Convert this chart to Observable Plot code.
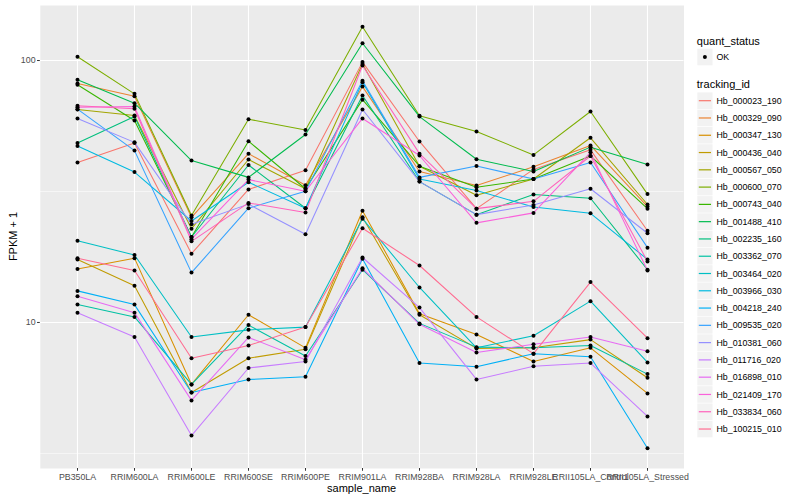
<!DOCTYPE html>
<html>
<head>
<meta charset="utf-8">
<script src="https://cdn.jsdelivr.net/npm/d3@7"></script>
<script src="https://cdn.jsdelivr.net/npm/@observablehq/plot@0.6"></script>
<style>
  html, body { margin: 0; padding: 0; background: white; }
  #chart { position: relative; width: 800px; height: 500px; }
</style>
</head>
<body>
<div id="chart"></div>
<script>
const samples = ["PB350LA", "RRIM600LA", "RRIM600LE", "RRIM600SE", "RRIM600PE", "RRIM901LA",
  "RRIM928BA", "RRIM928LA", "RRIM928LE", "RRII105LA_Control", "RRII105LA_Stressed"];

const trackingIds = ["Hb_000023_190", "Hb_000329_090", "Hb_000347_130", "Hb_000436_040", "Hb_000567_050",
  "Hb_000600_070", "Hb_000743_040", "Hb_001488_410", "Hb_002235_160", "Hb_003362_070",
  "Hb_003464_020", "Hb_003966_030", "Hb_004218_240", "Hb_009535_020", "Hb_010381_060",
  "Hb_011716_020", "Hb_016898_010", "Hb_021409_170", "Hb_033834_060", "Hb_100215_010"];

const idColors = ["#F8766D", "#EA8331", "#D89000", "#C09B00", "#A3A500", "#7CAE00", "#39B600", "#00BB4E",
  "#00BF7D", "#00C1A3", "#00BFC4", "#00BAE0", "#00B0F6", "#35A2FF", "#9590FF", "#C77CFF",
  "#E76BF3", "#FA62DB", "#FF62BC", "#FF6C91"];

// FPKM + 1, one value per sample (same order as samples)
const hb_000023_190 = [40.8, 48.4, 18.3, 32.2, 38.1, 98.6, 49.1, 27.2, 38.4, 45.6, 22.4];
const hb_000329_090 = [81.7, 73.1, 25.2, 44.1, 33.4, 79.5, 37.7, 33.3, 39.3, 47.4, 27.7];
const hb_000347_130 = [16.0, 17.6, 5.8, 10.7, 8.0, 26.7, 10.8, 9.0, 7.1, 8.0, 5.36];
const hb_000436_040 = [17.4, 13.8, 5.4, 7.3, 7.9, 25.2, 10.7, 7.96, 8.0, 8.6, 6.15];
const hb_000567_050 = [65.0, 61.7, 22.8, 41.9, 32.4, 97.0, 39.5, 30.6, 35.3, 50.7, 28.2];
const hb_000600_070 = [103.4, 74.6, 25.6, 59.7, 54.3, 134.5, 61.5, 53.6, 43.6, 63.9, 30.9];
const hb_000743_040 = [80.8, 59.0, 21.2, 49.2, 32.4, 70.9, 39.5, 32.8, 35.3, 43.2, 27.2];
const hb_001488_410 = [84.4, 68.7, 41.5, 35.8, 52.2, 116.4, 61.1, 42.0, 37.7, 46.7, 40.1];
const hb_002235_160 = [48.4, 61.1, 21.2, 39.9, 27.3, 73.5, 34.5, 25.8, 30.8, 29.8, 15.9];
const hb_003362_070 = [11.7, 10.5, 5.8, 9.77, 7.45, 15.9, 9.92, 8.05, 8.0, 8.17, 6.35];
const hb_003464_020 = [20.5, 18.1, 8.8, 9.37, 9.6, 24.9, 13.6, 8.0, 8.9, 12.06, 7.04];
const hb_003966_030 = [47.2, 37.5, 24.4, 34.3, 27.3, 82.7, 35.3, 31.9, 27.6, 26.1, 17.4];
const hb_004218_240 = [13.2, 11.7, 5.4, 6.06, 6.2, 17.5, 7.0, 6.77, 7.6, 7.4, 3.31];
const hb_009535_020 = [65.2, 45.3, 15.5, 27.3, 31.7, 83.7, 35.8, 39.6, 35.3, 40.8, 19.3];
const hb_010381_060 = [60.1, 48.7, 23.7, 28.3, 21.7, 65.0, 34.5, 25.8, 28.1, 32.4, 21.9];
const hb_011716_020 = [10.9, 8.8, 3.7, 6.7, 7.1, 17.7, 11.4, 6.06, 6.8, 7.0, 4.38];
const hb_016898_010 = [12.6, 10.9, 5.04, 8.77, 7.2, 16.1, 9.84, 7.68, 8.26, 8.8, 7.77];
const hb_021409_170 = [66.3, 66.7, 20.8, 35.1, 31.7, 60.1, 43.4, 24.0, 26.2, 44.6, 15.8];
const hb_033834_060 = [67.2, 65.4, 20.4, 28.6, 26.3, 95.7, 44.1, 27.2, 29.0, 43.2, 17.1];
const hb_100215_010 = [17.6, 15.8, 7.3, 8.17, 9.6, 22.9, 16.5, 10.5, 7.6, 14.26, 8.71];

const seriesValues = [hb_000023_190, hb_000329_090, hb_000347_130, hb_000436_040, hb_000567_050,
  hb_000600_070, hb_000743_040, hb_001488_410, hb_002235_160, hb_003362_070,
  hb_003464_020, hb_003966_030, hb_004218_240, hb_009535_020, hb_010381_060,
  hb_011716_020, hb_016898_010, hb_021409_170, hb_033834_060, hb_100215_010];

const yTicks = [10, 100];
const yMinorGrid = [Math.sqrt(10), Math.sqrt(1000)];

const data = [];
trackingIds.forEach((id, i) => {
  seriesValues[i].forEach((v, j) => data.push({id, sample: samples[j], value: v, status: "OK"}));
});

const W = 800, H = 500;
const mL = 39.8, mR = 116.5, mT = 5, mB = 32;
const font = "'Liberation Sans', Arial, Helvetica, sans-serif";

const svg = Plot.plot({
  width: W, height: H,
  marginLeft: mL, marginRight: mR, marginTop: mT, marginBottom: mB,
  style: {fontFamily: font, fontSize: "8.8px", background: "white", color: "#4D4D4D"},
  x: {type: "point", domain: samples, padding: 0.6, label: null},
  y: {type: "log", domain: [2.77, 162.2], label: null},
  color: {domain: trackingIds, range: idColors},
  marks: [
    Plot.frame({fill: "#EBEBEB", stroke: "none"}),
    Plot.ruleY(yMinorGrid, {stroke: "white", strokeWidth: 0.55}),
    Plot.ruleY(yTicks, {stroke: "white", strokeWidth: 1.1}),
    Plot.ruleX(samples, {stroke: "white", strokeWidth: 1.1}),
    Plot.line(data, {x: "sample", y: "value", z: "id", stroke: "id", strokeWidth: 1.05}),
    Plot.dot(data, {x: "sample", y: "value", r: 2, fill: "black", stroke: "none"}),
    Plot.axisX({tickSize: 2.75, tickPadding: 2, stroke: "#333333", fill: "#4D4D4D", label: null}),
    Plot.axisY({ticks: yTicks, tickFormat: d => String(d), tickSize: 2.75, tickPadding: 2,
      stroke: "#333333", fill: "#4D4D4D", label: null})
  ]
});

document.getElementById("chart").appendChild(svg);

const s = d3.select(svg);
// Axis titles
s.append("text")
  .attr("x", (mL + (W - mR)) / 2).attr("y", 488).attr("dy", "0.35em")
  .attr("text-anchor", "middle").attr("fill", "black")
  .style("font-family", font).style("font-size", "11px")
  .text("sample_name");
s.append("text")
  .attr("transform", `translate(13,${(mT + H - mB) / 2}) rotate(-90)`)
  .attr("dy", "0.35em").attr("text-anchor", "middle").attr("fill", "black")
  .style("font-family", font).style("font-size", "11px")
  .text("FPKM + 1");

// Legend
const lg = s.append("g").style("font-family", font).attr("text-anchor", "start");
const lx = 697.3, keyW = 15.2, keyH = 16.6, labelX = 716.5;
lg.append("text").attr("x", lx - 0.5).attr("y", 40.7).attr("dy", "0.35em").attr("text-anchor", "start")
  .attr("fill", "black").style("font-size", "11px").text("quant_status");
lg.append("rect").attr("x", lx).attr("y", 57 - keyH / 2).attr("width", keyW).attr("height", keyH)
  .attr("fill", "#F2F2F2");
lg.append("circle").attr("cx", lx + keyW / 2).attr("cy", 57).attr("r", 2).attr("fill", "black");
lg.append("text").attr("x", labelX).attr("y", 57).attr("dy", "0.35em").attr("text-anchor", "start")
  .attr("fill", "black").style("font-size", "8.8px").text("OK");

lg.append("text").attr("x", lx - 0.5).attr("y", 84.3).attr("dy", "0.35em").attr("text-anchor", "start")
  .attr("fill", "black").style("font-size", "11px").text("tracking_id");
trackingIds.forEach((id, i) => {
  const cy = 100.7 + 17.28 * i;
  lg.append("rect").attr("x", lx).attr("y", cy - keyH / 2).attr("width", keyW).attr("height", keyH)
    .attr("fill", "#F2F2F2");
  lg.append("line").attr("x1", lx + 1.5).attr("x2", lx + keyW - 1.5).attr("y1", cy).attr("y2", cy)
    .attr("stroke", idColors[i]).attr("stroke-width", 1.2);
  lg.append("text").attr("x", labelX).attr("y", cy).attr("dy", "0.35em").attr("text-anchor", "start")
    .attr("fill", "black").style("font-size", "8.8px").text(id);
});
</script>
</body>
</html>
